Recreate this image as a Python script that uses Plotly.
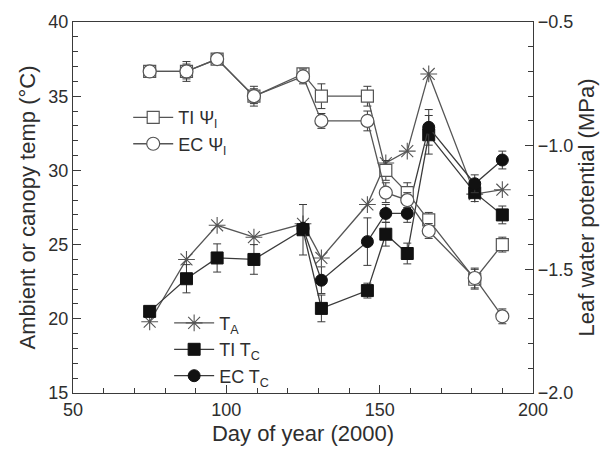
import plotly.graph_objects as go

# ---- data ----
doy = [75, 87, 97, 109, 125, 131, 146, 152, 159, 166, 181, 190]
t_air = [19.8, 24.0, 26.3, 25.5, 26.4, 24.1, 27.7, 30.5, 31.3, 36.5, 28.4, 28.7]
ti_tc = [20.5, 22.7, 24.1, 24.0, 26.0, 20.7, 21.9, 25.7, 24.4, 32.4, 28.5, 27.0]
ti_tc_err = [0.3, 0.95, 0.95, 1.0, 1.7, 0.9, 0.5, 0.8, 0.7, 1.3, 0.6, 0.6]
ec_doy = [125, 131, 146, 152, 159, 166, 181, 190]
ec_tc = [26.1, 22.6, 25.2, 27.1, 27.1, 32.9, 29.1, 30.7]
ec_tc_err = [0.3, 0.9, 1.6, 0.6, 0.6, 1.2, 0.6, 0.6]
ti_psi = [-0.70, -0.70, -0.65, -0.80, -0.71, -0.80, -0.80, -1.10, -1.19, -1.30, -1.54, -1.40]
ti_psi_err = [0.01, 0.04, 0.02, 0.04, 0.02, 0.05, 0.04, 0.04, 0.04, 0.03, 0.04, 0.03]
ec_psi = [-0.70, -0.70, -0.65, -0.80, -0.72, -0.90, -0.90, -1.19, -1.22, -1.345, -1.535, -1.69]
ec_psi_err = [0.01, 0.03, 0.02, 0.03, 0.03, 0.03, 0.04, 0.04, 0.03, 0.03, 0.04, 0.03]

FONT = "Liberation Sans, Arial, sans-serif"
LINE = "#3a3a3a"
GRAY = "#555555"
TXT = "#2e2e2e"

def eb(arr):
    return dict(type="data", array=arr, visible=True, color=LINE, thickness=1, width=4)

fig = go.Figure()

fig.add_trace(go.Scatter(
    x=doy, y=ti_psi, error_y=eb(ti_psi_err), yaxis="y2", name="TI Ψ<sub>l</sub>",
    mode="lines+markers", line=dict(color=GRAY, width=1.3),
    marker=dict(symbol="square", size=12, color="white", line=dict(color=GRAY, width=1.2)),
    legend="legend"))
fig.add_trace(go.Scatter(
    x=doy, y=ec_psi, error_y=eb(ec_psi_err), yaxis="y2", name="EC Ψ<sub>l</sub>",
    mode="lines+markers", line=dict(color=GRAY, width=1.3),
    marker=dict(symbol="circle", size=13, color="white", line=dict(color=GRAY, width=1.2)),
    legend="legend"))
fig.add_trace(go.Scatter(
    x=doy, y=t_air, name="T<sub>A</sub>",
    mode="lines+markers", line=dict(color=GRAY, width=1.3),
    marker=dict(symbol="asterisk-open", size=14, color=GRAY, line=dict(color=GRAY, width=1.1)),
    legend="legend2"))
fig.add_trace(go.Scatter(
    x=doy, y=ti_tc, error_y=eb(ti_tc_err), name="TI T<sub>C</sub>",
    mode="lines+markers", line=dict(color=LINE, width=1.3),
    marker=dict(symbol="square", size=12, color="#111111", line=dict(color="#111111", width=1)),
    legend="legend2"))
fig.add_trace(go.Scatter(
    x=ec_doy, y=ec_tc, error_y=eb(ec_tc_err), name="EC T<sub>C</sub>",
    mode="lines+markers", line=dict(color=LINE, width=1.3),
    marker=dict(symbol="circle", size=12, color="#111111", line=dict(color="#111111", width=1)),
    legend="legend2"))

axfont = dict(family=FONT, size=18, color=TXT)
titlefont = dict(family=FONT, size=22, color=TXT)
legfont = dict(family=FONT, size=18, color=TXT)

fig.update_layout(
    width=607, height=455,
    margin=dict(l=73, r=69, t=20, b=62),
    paper_bgcolor="white", plot_bgcolor="white",
    font=dict(family=FONT, color=TXT),
    xaxis=dict(range=[50, 200], tickvals=[50, 100, 150, 200], ticks="inside", ticklen=8,
               tickcolor=LINE, showline=True, linecolor=LINE, linewidth=1.3, mirror=True,
               showgrid=False, zeroline=False, tickfont=axfont,
               minor=dict(ticks="inside", ticklen=5, dtick=10, tickcolor=LINE, showgrid=False),
               title=dict(text="Day of year (2000)", font=titlefont, standoff=6)),
    yaxis=dict(range=[15, 40], tickvals=[15, 20, 25, 30, 35, 40], ticks="inside", ticklen=8,
               tickcolor=LINE, showline=True, linecolor=LINE, linewidth=1.3,
               showgrid=False, zeroline=False, tickfont=axfont,
               minor=dict(ticks="inside", ticklen=5, dtick=1, tickcolor=LINE, showgrid=False),
               title=dict(text="Ambient or canopy temp (°C)", font=titlefont, standoff=6)),
    yaxis2=dict(range=[-2.0, -0.5], overlaying="y", side="right",
                tickvals=[-2.0, -1.5, -1.0, -0.5], tickformat=".1f", ticks="inside", ticklen=8,
                tickcolor=LINE, showline=True, linecolor=LINE, linewidth=1.3,
                showgrid=False, zeroline=False, tickfont=axfont,
                minor=dict(ticks="inside", ticklen=5, dtick=0.1, tickcolor=LINE, showgrid=False),
                title=dict(text="Leaf water potential (MPa)", font=titlefont, standoff=6)),
    legend=dict(x=0.12, y=0.792, xanchor="left", yanchor="top", bgcolor="rgba(0,0,0,0)",
                font=legfont, itemwidth=40, tracegroupgap=0),
    legend2=dict(x=0.209, y=0.238, xanchor="left", yanchor="top", bgcolor="rgba(0,0,0,0)",
                 font=legfont, itemwidth=40, tracegroupgap=0),
)

fig.write_html("out.html")
